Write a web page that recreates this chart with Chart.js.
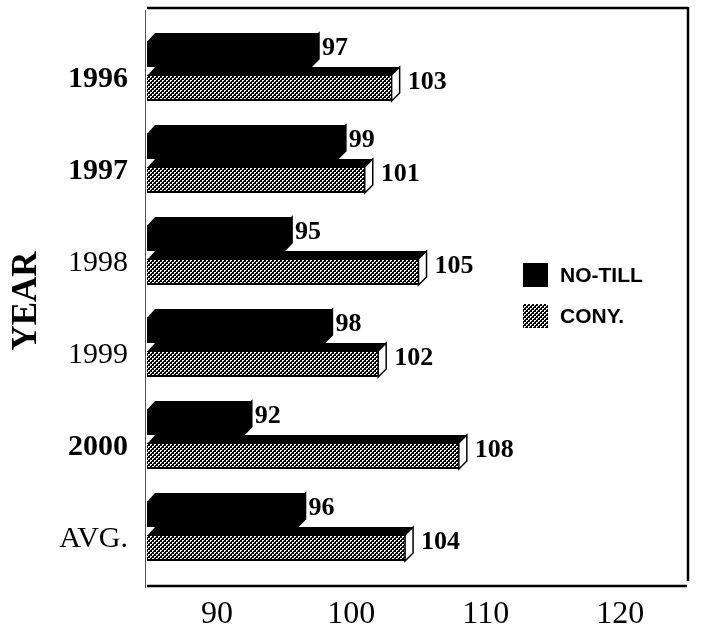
<!DOCTYPE html>
<html>
<head>
<meta charset="utf-8">
<script src="https://cdn.jsdelivr.net/npm/chart.js@4.4.1/dist/chart.umd.min.js"></script>
<style>
  html, body { margin: 0; padding: 0; background: #fff; }
</style>
</head>
<body>
<canvas id="myChart" width="714" height="637"></canvas>
<script>
const years = ['1996', '1997', '1998', '1999', '2000', 'AVG.']
const noTill = [97, 99, 95, 98, 92, 96]
const conv = [103, 101, 105, 102, 108, 104]
const xTicks = [90, 100, 110, 120]
const seriesNames = ['NO-TILL', 'CONY.']

// the original prints some year labels bold, some plain
const boldYear = [true, true, false, false, true, false]

const serif = "'Liberation Serif', 'Times New Roman', serif"
const sans = "'Liberation Sans', Arial, sans-serif"
const depth = 8

const canvas = document.getElementById('myChart')
const ctx = canvas.getContext('2d')

// stippled grey for the conventional bars
function makeStipple(){
    const c = document.createElement('canvas')
    c.width = 4
    c.height = 4
    const g = c.getContext('2d')
    g.fillStyle = '#fff'
    g.fillRect(0, 0, 4, 4)
    g.fillStyle = '#000'
    for(let y = 0; y < 4; y++){
        for(let x = 0; x < 4; x++){
            if((x + y) % 4 < 2 || (x - y + 4) % 4 === 0) g.fillRect(x, y, 1, 1)
        }
    }
    return ctx.createPattern(c, 'repeat')
}
const stipple = makeStipple()

const bars3d = {
    id: 'bars3d',
    afterDatasetsDraw(chart){
        const c = chart.ctx
        const area = chart.chartArea
        c.save()
        chart.data.datasets.forEach((ds, di)=>{
            chart.getDatasetMeta(di).data.forEach((bar, i)=>{
                // bars start at 0, the axis starts higher: cut at the plot edge
                const left = Math.max(bar.base, area.left), right = bar.x
                const top = bar.y - bar.height / 2, bottom = bar.y + bar.height / 2
                // top face (overlaps the front by 1px so no seam shows)
                c.fillStyle = '#000'
                c.beginPath()
                c.moveTo(left, top + 1)
                c.lineTo(left + depth, top - depth)
                c.lineTo(right + depth, top - depth)
                c.lineTo(right, top + 1)
                c.closePath()
                c.fill()
                // end cap
                c.beginPath()
                c.moveTo(right, top)
                c.lineTo(right + depth, top - depth)
                c.lineTo(right + depth, bottom - depth)
                c.lineTo(right, bottom)
                c.closePath()
                c.fillStyle = di === 0 ? '#000' : '#fff'
                c.fill()
                c.lineWidth = 1.5
                c.strokeStyle = '#000'
                c.stroke()
                // value label
                c.fillStyle = '#000'
                c.font = `bold 26px ${serif}`
                c.textBaseline = 'middle'
                c.textAlign = 'left'
                const gap = di === 0 ? 3 : 8
                c.fillText(ds.data[i], right + depth + gap, bar.y - 6)
            })
        })
        c.restore()
    }
}

const frameAndLegend = {
    id: 'frameAndLegend',
    afterDraw(chart){
        const c = chart.ctx
        const {left, right, top, bottom} = chart.chartArea
        c.save()
        c.strokeStyle = '#000'
        c.lineWidth = 2.5
        c.beginPath()
        c.moveTo(left, top - 17)
        c.lineTo(right + 2, top - 17)
        c.moveTo(right + 2, top - 18)
        c.lineTo(right + 2, bottom + 4)
        c.moveTo(left, bottom + 9)
        c.lineTo(right + 1, bottom + 9)
        c.stroke()
        c.lineWidth = 1
        c.strokeStyle = '#555'
        c.beginPath()
        c.moveTo(left - 1.5, top - 15)
        c.lineTo(left - 1.5, bottom + 11)
        c.stroke()

        // legend
        const fills = ['#000', stipple]
        c.font = `bold 21px ${sans}`
        c.textBaseline = 'middle'
        c.textAlign = 'left'
        seriesNames.forEach((name, i)=>{
            const x = right - 163, y = top + 238 + i * 41
            c.fillStyle = fills[i]
            c.fillRect(x, y, 25, 24)
            c.fillStyle = '#000'
            c.fillText(name, x + 37, y + 13)
        })
        c.restore()
    }
}

new Chart(canvas, {
    type: 'bar',
    data: {
        labels: years,
        datasets: [{
            label: seriesNames[0],
            data: noTill,
            backgroundColor: '#000',
            borderWidth: 0,
            categoryPercentage: 0.74,
            barPercentage: 0.765
        }, {
            label: seriesNames[1],
            data: conv,
            backgroundColor: stipple,
            borderColor: '#000',
            borderWidth: {top: 0, right: 0, bottom: 2, left: 0},
            categoryPercentage: 0.74,
            barPercentage: 0.765
        }]
    },
    plugins: [bars3d, frameAndLegend],
    options: {
        indexAxis: 'y',
        responsive: false,
        animation: false,
        layout: {
            padding: {top: 25, right: 28, left: 0, bottom: 0}
        },
        plugins: {
            legend: {display: false},
            tooltip: {enabled: false}
        },
        scales: {
            x: {
                min: 84.8,
                max: 124.9,
                grid: {display: false, drawTicks: false},
                border: {display: false},
                afterBuildTicks: s=>{ s.ticks = xTicks.map(v=>({value: v})) },
                afterFit: s=>{
                    s.height = 60
                    s.paddingLeft = 0
                    s.paddingRight = 0
                },
                ticks: {
                    color: '#000',
                    padding: 18,
                    maxRotation: 0,
                    autoSkip: false,
                    font: {family: serif, size: 32}
                }
            },
            y: {
                grid: {display: false, drawTicks: false},
                border: {display: false},
                afterFit: s=>{
                    s.width = 147
                    s.paddingTop = 0
                    s.paddingBottom = 0
                },
                ticks: {
                    color: '#000',
                    padding: 19,
                    labelOffset: 8,
                    font: (context)=>({
                        family: serif,
                        size: 30,
                        weight: boldYear[context.index] ? 'bold' : 'normal'
                    })
                },
                title: {
                    display: true,
                    text: 'YEAR',
                    color: '#000',
                    padding: {top: 6, bottom: 0},
                    font: {family: serif, size: 35, weight: 'bold'}
                }
            }
        }
    }
});
</script>
</body>
</html>
